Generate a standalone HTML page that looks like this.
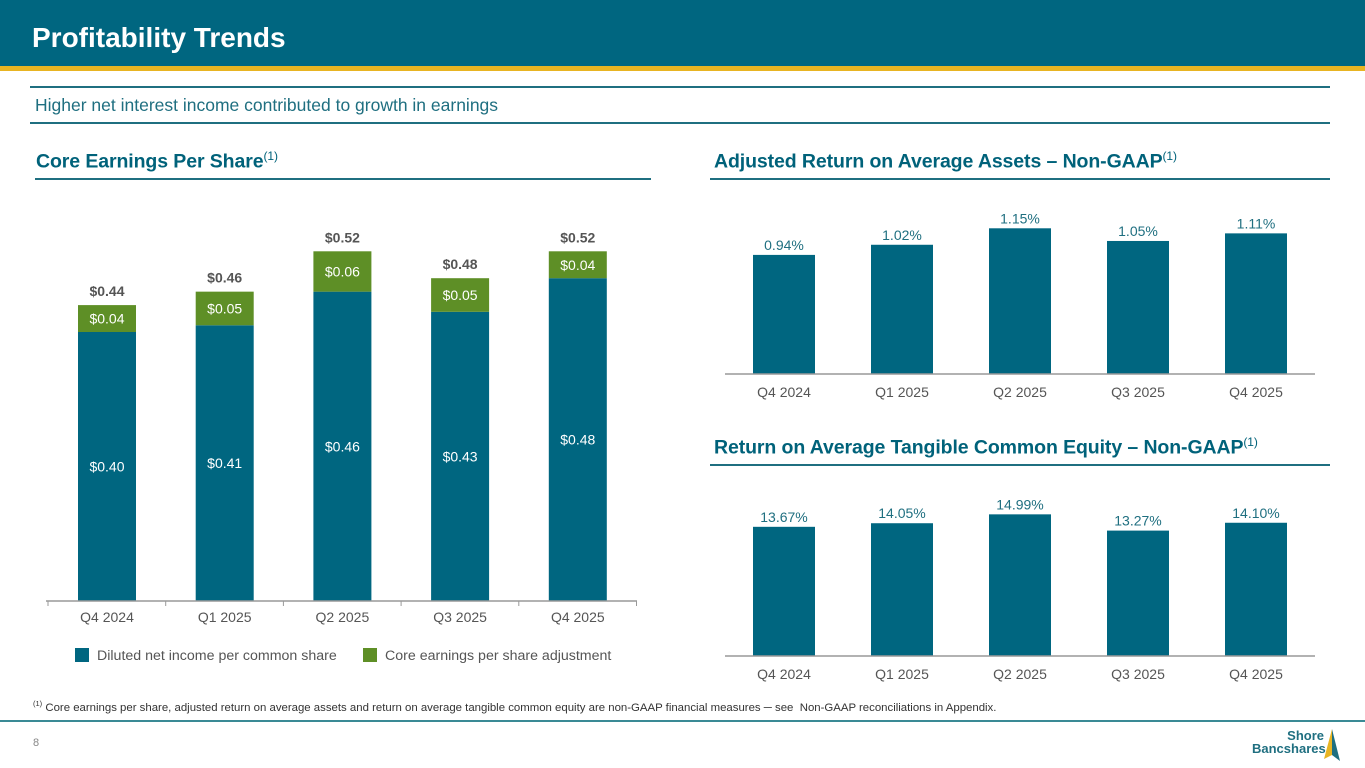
<!DOCTYPE html>
<html><head><meta charset="utf-8"><style>
body{margin:0;width:1365px;height:768px;overflow:hidden;background:#fff;font-family:"Liberation Sans",sans-serif;position:relative}
.abs{position:absolute}
.hdr{left:0;top:0;width:1365px;height:66px;background:#006680}
.stripe{left:0;top:66px;width:1365px;height:5px;background:#E8B422}
.title{left:32px;top:22px;color:#fff;font-size:28px;font-weight:bold}
.line{height:2px;background:#1F6F80}
.sec{color:#00627A;font-size:19.5px;font-weight:bold;letter-spacing:-0.1px}
.sec sup{font-weight:normal;font-size:12px}
svg text{font-family:"Liberation Sans",sans-serif}
</style></head><body>
<div class="abs hdr"></div>
<div class="abs stripe"></div>
<div class="abs title">Profitability Trends</div>
<div class="abs line" style="left:30px;top:86px;width:1300px"></div>
<div class="abs" style="left:35px;top:95px;font-size:17.5px;color:#1F6F80">Higher net interest income contributed to growth in earnings</div>
<div class="abs line" style="left:30px;top:122px;width:1300px"></div>
<div class="abs sec" style="left:36px;top:149px">Core Earnings Per Share<sup>(1)</sup></div>
<div class="abs line" style="left:35px;top:178px;width:616px"></div>
<div class="abs sec" style="left:714px;top:149px">Adjusted Return on Average Assets – Non-GAAP<sup>(1)</sup></div>
<div class="abs line" style="left:710px;top:178px;width:620px"></div>
<div class="abs sec" style="left:714px;top:435px">Return on Average Tangible Common Equity – Non-GAAP<sup>(1)</sup></div>
<div class="abs line" style="left:710px;top:464px;width:620px"></div>
<div class="abs" style="left:33px;top:699px;font-size:11.4px;color:#333"><sup style="font-size:7.5px">(1)</sup> Core earnings per share, adjusted return on average assets and return on average tangible common equity are non-GAAP financial measures ─ see &nbsp;Non-GAAP reconciliations in Appendix.</div>
<div class="abs line" style="left:0;top:720px;width:1365px;background:#3A8A95"></div>
<div class="abs" style="left:33px;top:737px;font-size:11px;color:#888">8</div>
<div class="abs" style="left:1256px;top:730px;width:110px;height:32px">
<div style="position:absolute;left:-4px;top:0;width:72px;text-align:right;font-size:13px;font-weight:bold;color:#1F6F80;line-height:12.5px">Shore<br>Bancshares</div>
<svg width="30" height="36" style="position:absolute;left:62px;top:-3px"><polygon points="14,2 6,32 14,28" fill="#E8B422"/><polygon points="14,2 22,34 14,28" fill="#1F6F80"/></svg>
</div>
<svg id="chart" class="abs" style="left:0;top:0" width="1365" height="768"></svg>
<script>
const cats=["Q4 2024","Q1 2025","Q2 2025","Q3 2025","Q4 2025"];
const dilutedEps=[0.40,0.41,0.46,0.43,0.48];
const epsAdj=[0.04,0.05,0.06,0.05,0.04];
const coreEps=[0.44,0.46,0.52,0.48,0.52];
const roaa=[0.94,1.02,1.15,1.05,1.11];
const rotce=[13.67,14.05,14.99,13.27,14.10];
const NS="http://www.w3.org/2000/svg";
const svg=document.getElementById('chart');
function mk(t,a,txt){const e=document.createElementNS(NS,t);for(const k in a)e.setAttribute(k,a[k]);if(txt!==undefined)e.textContent=txt;svg.appendChild(e);return e;}
const BLUE="#006680",GREEN="#5E8F26";
const eX=i=>107+i*117.7, eY=v=>601-v*672.5;
cats.forEach((c,i)=>{
 const x=eX(i);
 let r=mk('rect',{x:x-29,y:eY(dilutedEps[i]),width:58,height:601-eY(dilutedEps[i]),fill:BLUE});
 
 
 r=mk('rect',{x:x-29,y:eY(dilutedEps[i]+epsAdj[i]),width:58,height:eY(dilutedEps[i])-eY(dilutedEps[i]+epsAdj[i]),fill:GREEN});
 
 
 let t=mk('text',{x:x,y:(eY(dilutedEps[i])+601)/2+5,'text-anchor':'middle','font-size':14,fill:'#fff'},'$'+dilutedEps[i].toFixed(2));
 
 
 t=mk('text',{x:x,y:(eY(dilutedEps[i])+eY(dilutedEps[i]+epsAdj[i]))/2+5,'text-anchor':'middle','font-size':14,fill:'#fff'},'$'+epsAdj[i].toFixed(2));
 
 
 t=mk('text',{x:x,y:eY(coreEps[i])-9,'text-anchor':'middle','font-size':14,'font-weight':'bold',fill:'#555'},'$'+coreEps[i].toFixed(2));
 
 
 t=mk('text',{x:x,y:622,'text-anchor':'middle','font-size':14,fill:'#555'},c);
 
 
});
let ax=mk('line',{x1:46,y1:601,x2:637,y2:601,stroke:'#999','stroke-width':1.5});


for(let i=0;i<=5;i++){let tk=mk('line',{x1:48+i*117.7,y1:601,x2:48+i*117.7,y2:606,stroke:'#999'});
 
 }
let lg=mk('rect',{x:75,y:648,width:14,height:14,fill:BLUE});


lg=mk('text',{x:97,y:660,'font-size':14.2,fill:'#555'},'Diluted net income per common share');


lg=mk('rect',{x:363,y:648,width:14,height:14,fill:GREEN});


lg=mk('text',{x:385,y:660,'font-size':14.2,fill:'#555'},'Core earnings per share adjustment');


function small(vals,base,scale,fmt,nm,lblOff){
 const X=i=>784+i*118, Y=v=>base-v*scale;
 vals.forEach((v,i)=>{
  let r=mk('rect',{x:X(i)-31,y:Y(v),width:62,height:base-Y(v),fill:BLUE});
  
  
  let t=mk('text',{x:X(i),y:Y(v)-lblOff,'text-anchor':'middle','font-size':14,fill:'#1F6F80'},fmt(v));
  
  
  t=mk('text',{x:X(i),y:base+23,'text-anchor':'middle','font-size':14,fill:'#555'},cats[i]);
  
  
 });
 let a=mk('line',{x1:725,y1:base,x2:1315,y2:base,stroke:'#999','stroke-width':1.5});
 
 
}
small(roaa,374,126.7,v=>v.toFixed(2)+'%','roaa',5);
small(rotce,656,9.45,v=>v.toFixed(2)+'%','rotce',5);
</script>
</body></html>
